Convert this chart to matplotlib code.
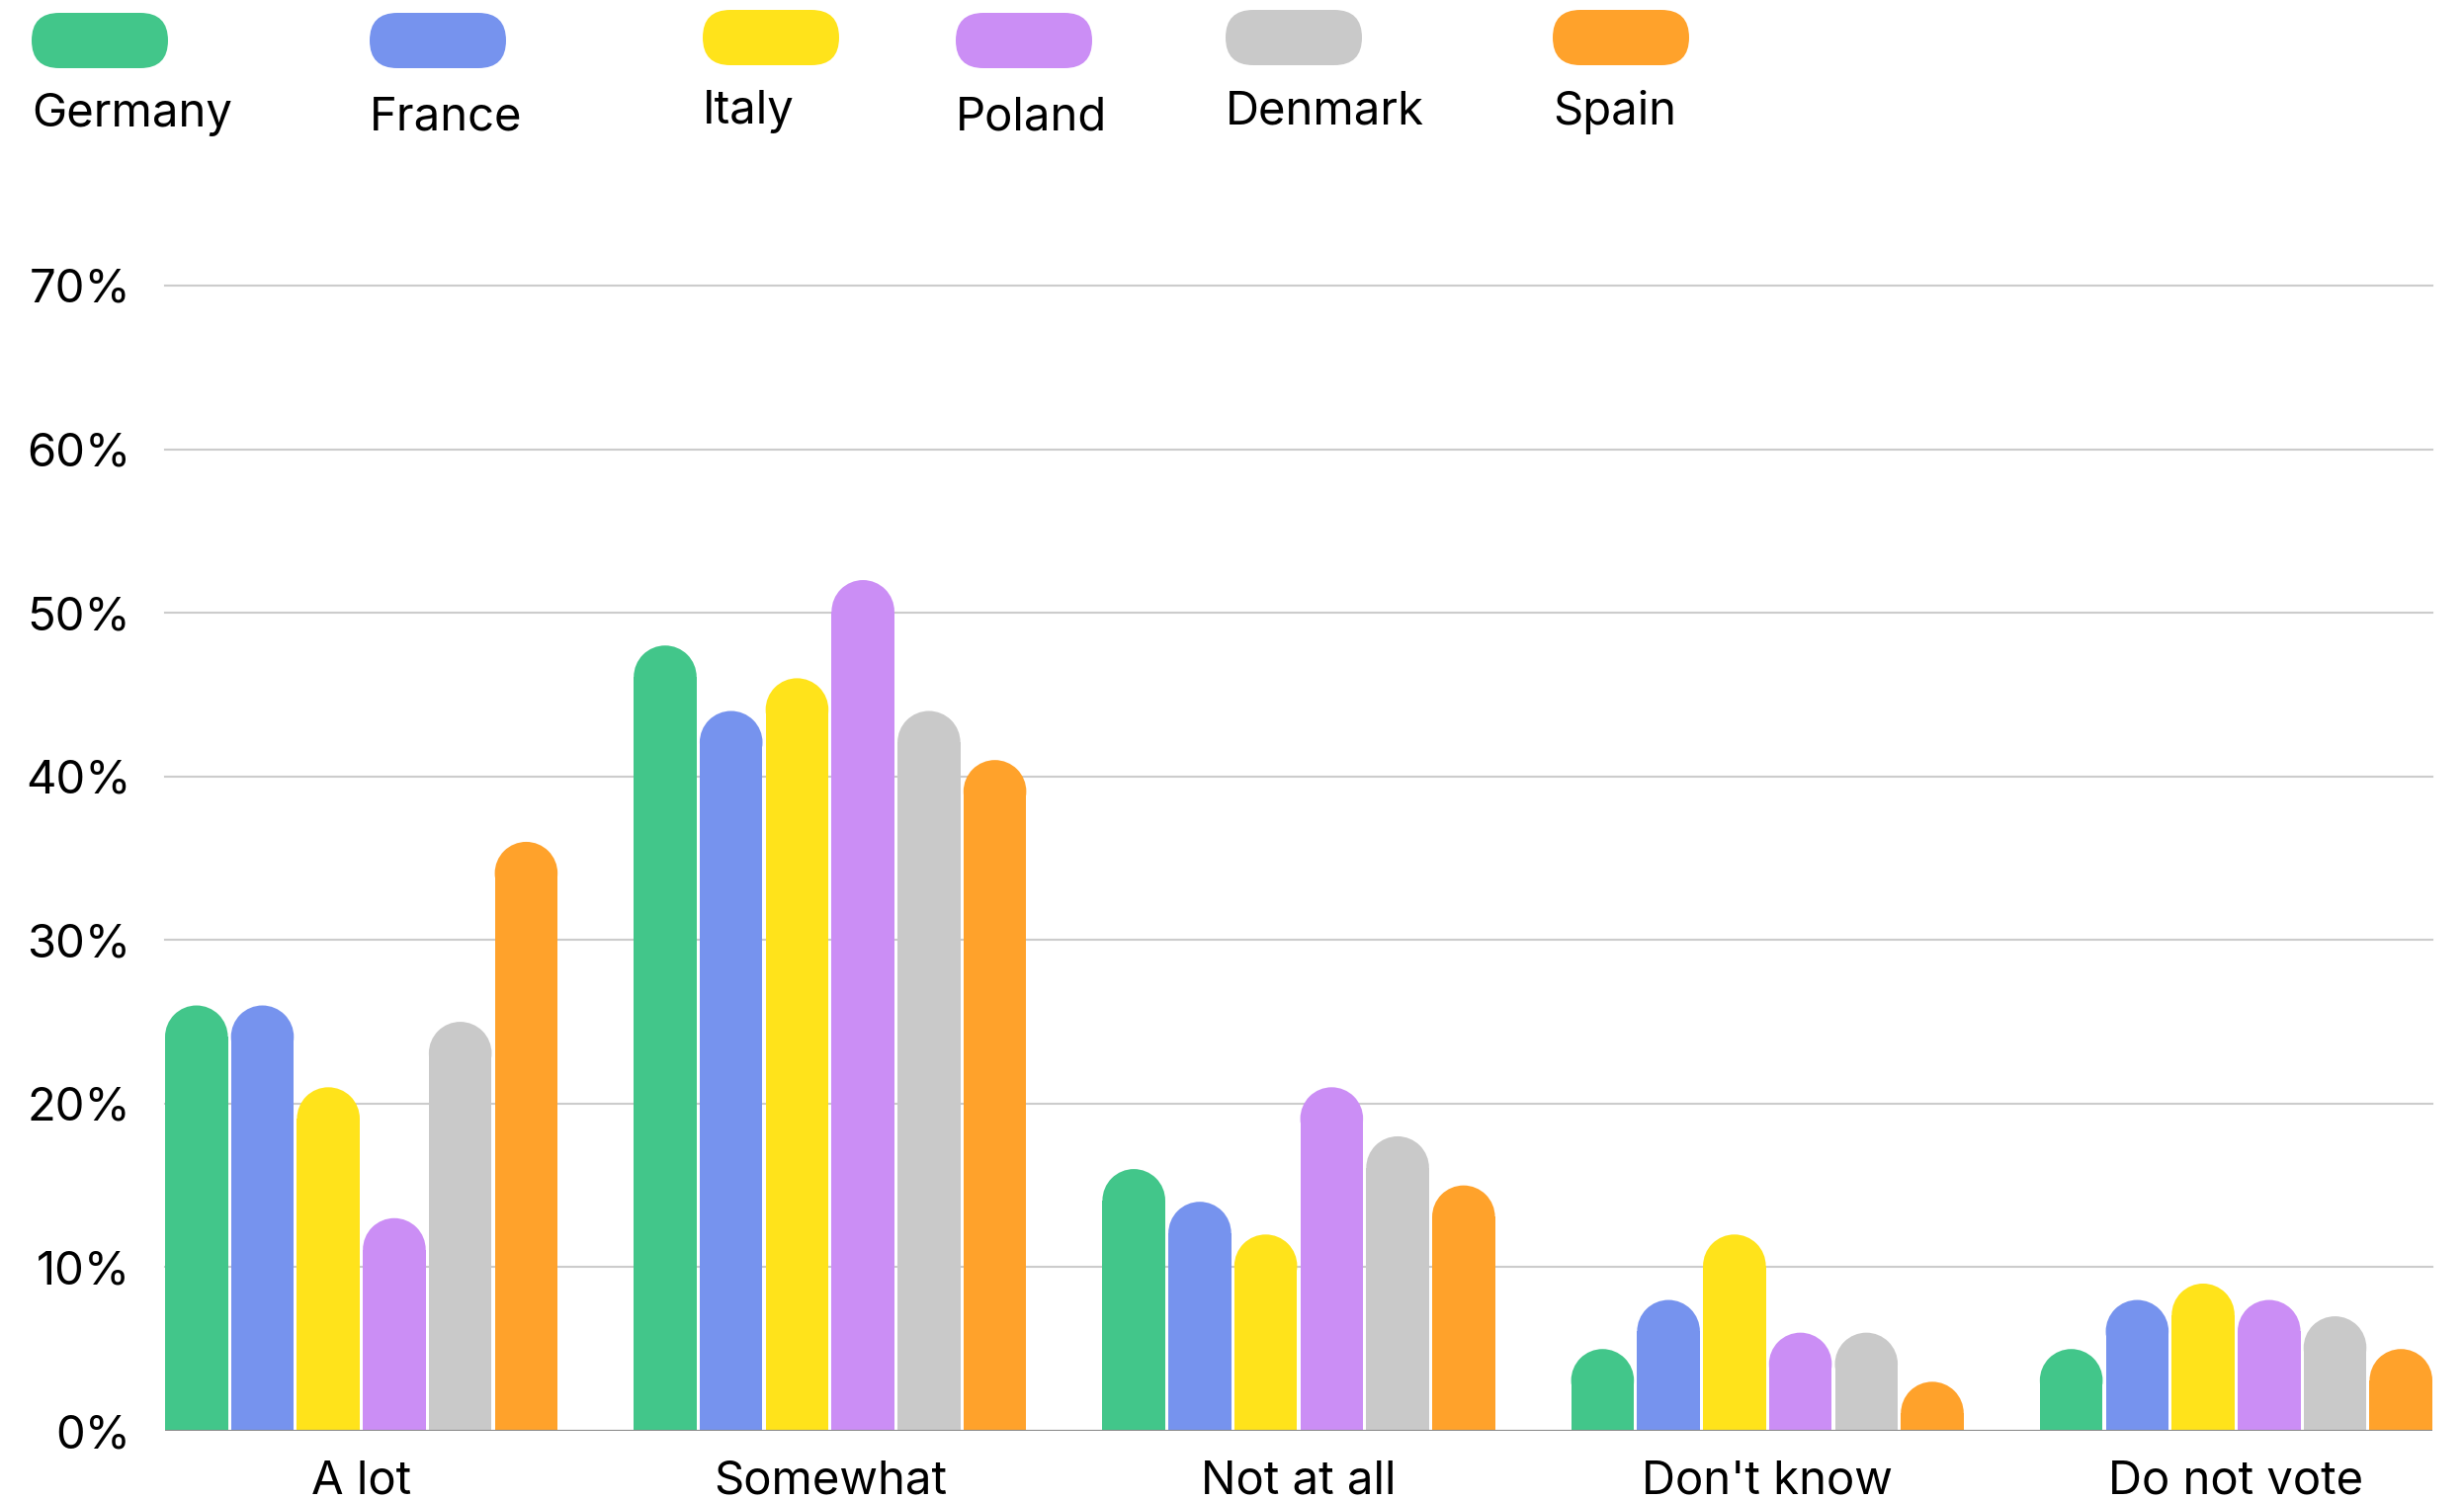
import matplotlib
matplotlib.use("Agg")
import matplotlib.pyplot as plt
from matplotlib.patches import Ellipse, FancyBboxPatch
from matplotlib.transforms import IdentityTransform

categories = ["A lot", "Somewhat", "Not at all", "Don't know", "Do not vote"]
countries = ["Germany", "France", "Italy", "Poland", "Denmark", "Spain"]
colors = ["#42C68A", "#7693EE", "#FFE31B", "#CB8EF5", "#C9C9C9", "#FFA22B"]

germany = [26, 48, 16, 5, 5]
france = [26, 44, 14, 8, 8]
italy = [21, 46, 12, 12, 9]
poland = [13, 52, 21, 6, 8]
denmark = [25, 44, 18, 6, 7]
spain = [36, 41, 15, 3, 5]
yticks = [0, 10, 20, 30, 40, 50, 60, 70]

series = [germany, france, italy, poland, denmark, spain]

FONT = "Inter"
FS = 34
plt.rcParams['font.family'] = [FONT, 'DejaVu Sans']

W, H, DPI = 2493, 1518, 100
fig = plt.figure(figsize=(W / DPI, H / DPI), dpi=DPI)

# axes box in pixels (from top-left)
left, right, top, base = 167, 2461, 289, 1448
ax = fig.add_axes([left / W, (H - base) / H, (right - left) / W, (base - top) / H])

step = 0.1407
width = 0.134
half = 2.5 * step + width / 2
ax.set_xlim(-half, len(categories) - 1 + half)
ax.set_ylim(0, 70)

# semicircle tops: radius in pixels = half bar width
px_x = (right - left) / (len(categories) - 1 + 2 * half)
px_y = (base - top) / 70
ry = (width * px_x / 2) / px_y

for i, vals in enumerate(series):
    xs = [c + (i - 2.5) * step for c in range(len(categories))]
    ax.bar(xs, [v - ry for v in vals], width=width, color=colors[i], zorder=3)
    for x, v in zip(xs, vals):
        ax.add_patch(Ellipse((x, v - ry), width, 2 * ry, color=colors[i], lw=0, zorder=3))

for y in yticks[1:]:
    ax.axhline(y, color="#CCCCCC", lw=1.5, zorder=1, clip_on=False)
ax.axhline(0, color="#8A8A8A", lw=1.5, zorder=4)

for s in ax.spines.values():
    s.set_visible(False)
ax.set_yticks(yticks)
ax.set_yticklabels([f"{t}%" for t in yticks])
ax.set_xticks(range(len(categories)))
ax.set_xticklabels(categories)
ax.tick_params(axis="y", length=0, pad=25, labelsize=FS)
ax.tick_params(axis="x", length=0, pad=21, labelsize=FS)

# legend: pill swatches with names underneath
leg_x = [32, 374, 711, 967, 1240, 1571]
leg_top = [13, 13, 10, 13, 10, 10]
lab_y = [116, 119, 113, 119, 113, 113]
pw, ph = 138, 56
for name, col, lx, lt, ly in zip(countries, colors, leg_x, leg_top, lab_y):
    p = FancyBboxPatch((lx + ph / 2, H - lt - ph + ph / 2), pw - ph, 0,
                       boxstyle=f"round,pad={ph / 2}", transform=IdentityTransform(),
                       color=col, lw=0)
    fig.add_artist(p)
    fig.text(lx / W, 1 - ly / H, name, fontsize=FS, va="center", ha="left")

fig.savefig("out.png", dpi=DPI)
